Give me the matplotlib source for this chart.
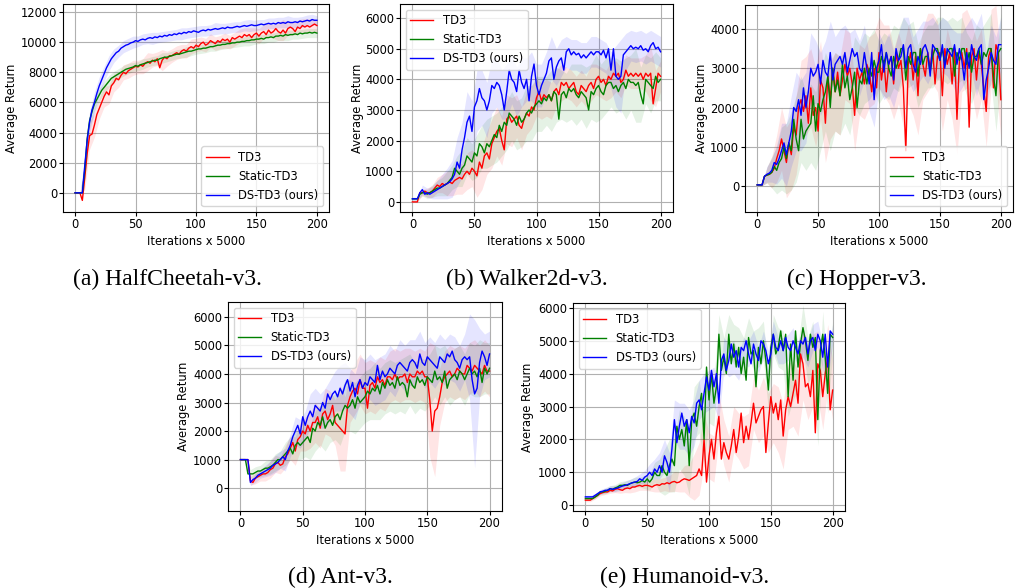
import numpy as np
import matplotlib
matplotlib.use("Agg")
import matplotlib.pyplot as plt

plt.rcParams["font.family"] = "DejaVu Sans"
plt.rcParams["font.size"] = 8.3
plt.rcParams["xtick.major.size"] = 3
plt.rcParams["ytick.major.size"] = 3
plt.rcParams["xtick.major.pad"] = 1.5
plt.rcParams["ytick.major.pad"] = 1.2

# x axis: evaluation every 2 iterations, bands every 4
iters = np.arange(0, 201, 2)
band_iters = iters[::2]

# ---------------- HalfCheetah-v3 ----------------
hc_td3 = [0, 0, 0, -500, 1000, 2600, 3800, 3900, 4500, 5200,
          5600, 6000, 6400, 6700, 6500, 7100, 7300, 7600, 7500, 7800,
          8000, 7900, 8100, 8200, 8300, 8400, 8350, 8500, 8400, 8600,
          8700, 8600, 8800, 8700, 8900, 8300, 8800, 9000, 8900, 9100,
          9100, 9200, 9300, 9200, 9400, 9500, 9400, 9600, 9700, 9600,
          9800, 9700, 9900, 10000, 9800, 9900, 10100, 10000, 9900, 10100,
          10000, 10200, 10100, 10200, 10000, 10300, 10200, 10300, 10400, 10300,
          10500, 10400, 10500, 10300, 10500, 10600, 10400, 10600, 10700, 10500,
          10800, 10600, 10700, 10900, 10700, 10600, 10800, 10600, 10900, 11000,
          10900, 10700, 11000, 10900, 11100, 11000, 11100, 11000, 11100, 11200,
          11100]
hc_static = [0, 0, 0, 0, 1500, 3600, 4800, 5400, 5900, 6200,
             6500, 6800, 7000, 7200, 7400, 7600, 7700, 7800, 7900, 8000,
             8100, 8200, 8250, 8300, 8350, 8450, 8400, 8500, 8550, 8600,
             8650, 8700, 8750, 8800, 8800, 8900, 8950, 9000, 9000, 9050,
             9100, 9150, 9200, 9200, 9250, 9300, 9350, 9400, 9400, 9450,
             9500, 9550, 9550, 9600, 9600, 9650, 9700, 9700, 9750, 9800,
             9800, 9850, 9850, 9900, 9900, 9950, 9950, 10000, 10000, 10050,
             10050, 10100, 10100, 10150, 10150, 10200, 10200, 10250, 10200, 10300,
             10300, 10350, 10300, 10400, 10400, 10450, 10400, 10500, 10450, 10500,
             10500, 10550, 10500, 10600, 10550, 10600, 10600, 10650, 10600, 10650,
             10600]
hc_ds = [0, 0, 0, 0, 1800, 3500, 4700, 5500, 6000, 6600,
         7100, 7500, 7900, 8300, 8600, 8900, 9100, 9300, 9400, 9600,
         9700, 9800, 9850, 9950, 10000, 10100, 10050, 10150, 10200, 10150,
         10250, 10300, 10250, 10350, 10300, 10400, 10350, 10450, 10400, 10500,
         10450, 10550, 10500, 10600, 10550, 10650, 10600, 10700, 10650, 10750,
         10700, 10650, 10750, 10800, 10750, 10850, 10800, 10850, 10900, 10850,
         10900, 10950, 10900, 11000, 10950, 10950, 11000, 11050, 11000, 11050,
         11100, 11050, 11100, 11150, 11100, 11100, 11150, 11200, 11150, 11200,
         11250, 11200, 11250, 11200, 11300, 11250, 11300, 11250, 11350, 11300,
         11300, 11350, 11300, 11400, 11350, 11400, 11450, 11400, 11500, 11450,
         11450]
hc_td3_std = [0, 0, 800, 900, 800, 700, 700, 600, 600, 500,
              500, 500, 500, 450, 500, 600, 450, 450, 700, 500,
              450, 450, 450, 450, 500, 450, 450, 450, 450, 450,
              450, 500, 450, 450, 450, 450, 450, 450, 500, 450,
              450, 450, 600, 700, 450, 450, 450, 450, 450, 450,
              400]
hc_static_std = [0, 0, 500, 500, 500, 400, 400, 400, 350, 350,
                 350, 350, 300, 300, 350, 300, 300, 300, 350, 300,
                 300, 300, 300, 350, 300, 300, 300, 300, 300, 350,
                 300, 300, 300, 300, 300, 300, 350, 300, 300, 300,
                 300, 300, 300, 300, 350, 300, 300, 300, 300, 300,
                 300]
hc_ds_std = [0, 0, 500, 700, 700, 600, 500, 500, 450, 400,
             400, 400, 400, 350, 350, 350, 400, 350, 350, 350,
             350, 350, 400, 350, 350, 350, 350, 350, 350, 400,
             350, 350, 350, 350, 350, 350, 400, 350, 350, 350,
             350, 350, 350, 350, 400, 350, 350, 350, 350, 350,
             300]

# ---------------- Walker2d-v3 ----------------
wk_td3 = [0, 0, 0, 300, 300, 350, 300, 300, 350, 450,
          550, 500, 600, 550, 600, 650, 600, 700, 750, 800,
          750, 900, 1000, 900, 1100, 1000, 850, 1300, 1100, 1500,
          1600, 1400, 1900, 2100, 2300, 2400, 2000, 1700, 2700, 2800,
          2600, 2700, 2800, 2500, 2400, 2700, 2900, 2800, 3100, 3000,
          3400, 3600, 3300, 3500, 3400, 3500, 3300, 3600, 3700, 3500,
          3900, 3800, 3900, 3700, 3800, 3900, 3600, 3500, 3800, 3700,
          3600, 3800, 3900, 3700, 4000, 4100, 3900, 4000, 3800, 4100,
          4000, 4200, 4100, 4200, 3900, 4000, 4300, 4100, 4200, 4100,
          4200, 4100, 4200, 4000, 4200, 4100, 4200, 3200, 3700, 4200,
          4100]
wk_static = [100, 100, 100, 250, 300, 300, 250, 300, 350, 400,
             450, 450, 500, 550, 600, 700, 800, 1100, 1000, 900,
             1100, 1200, 1500, 1400, 1300, 1600, 1500, 1900, 1800, 1600,
             1900, 1800, 2000, 2200, 2100, 2500, 2300, 2600, 2500, 2900,
             2800, 2700, 2500, 2800, 2600, 2700, 2900, 3000, 2900, 3100,
             3200, 3300, 3200, 3400, 3300, 3500, 3300, 3600, 3500, 2700,
             3500, 3600, 3400, 3700, 3600, 3700, 3500, 3400, 3600, 3500,
             3400, 3000, 3600, 3500, 3700, 3800, 3600, 3500, 3800, 3900,
             3900, 3700, 3800, 3600, 3800, 3900, 3700, 4000, 3900, 3900,
             3800, 3900, 3500, 3200, 4000, 3900, 3800, 3700, 4100, 3900,
             4000]
wk_ds = [100, 100, 100, 300, 400, 250, 300, 250, 300, 350,
         400, 450, 500, 550, 600, 650, 750, 900, 1300, 1100,
         1700, 2100, 2600, 2800, 2300, 3100, 3300, 3700, 3400, 3300,
         3000, 3300, 3800, 3700, 3900, 3800, 3500, 3000, 3600, 4300,
         4000, 3900, 3600, 4300, 3900, 3700, 4000, 3300, 4100, 4500,
         3800, 3500, 3800, 4000, 4200, 4600, 4700, 4000, 4400, 4600,
         4700, 4300, 4900, 5000, 4800, 4900, 4800, 4850, 4700, 4800,
         4700, 4800, 4900, 4800, 4900, 4900, 4800, 4950, 4700, 5000,
         4300, 5000, 4100, 4000, 4100, 4800, 4900, 5000, 5100, 5000,
         5050, 5000, 5100, 4950, 5000, 4900, 5100, 5200, 5000, 5050,
         4900]
wk_td3_std = [0, 0, 100, 150, 200, 250, 300, 400, 400, 500,
              500, 600, 600, 700, 700, 700, 800, 800, 800, 800,
              800, 700, 700, 700, 700, 600, 600, 600, 600, 600,
              600, 500, 500, 500, 500, 500, 600, 500, 500, 500,
              600, 500, 500, 500, 500, 500, 500, 600, 900, 600,
              500]
wk_static_std = [50, 50, 100, 150, 200, 250, 300, 400, 400, 500,
                 600, 600, 600, 700, 700, 800, 800, 800, 800, 800,
                 800, 800, 800, 900, 900, 900, 900, 800, 1000, 900,
                 800, 800, 900, 1000, 900, 1000, 900, 1100, 900, 900,
                 800, 900, 800, 1000, 900, 1200, 900, 800, 900, 800,
                 700]
wk_ds_std = [50, 50, 150, 150, 200, 300, 400, 500, 600, 800,
             900, 1000, 1000, 1000, 900, 900, 900, 800, 800, 900,
             800, 800, 800, 700, 800, 700, 700, 700, 700, 600,
             600, 500, 500, 500, 500, 500, 500, 500, 500, 500,
             600, 1000, 1200, 600, 500, 500, 500, 500, 500, 500,
             500]

# ---------------- Hopper-v3 ----------------
hp_td3 = [30, 30, 30, 250, 280, 300, 350, 450, 700, 900,
          1200, 900, 600, 1100, 800, 1500, 1300, 2000, 2200, 1900,
          2300, 1600, 2500, 1800, 2000, 1400, 2700, 2500, 1600, 2800,
          2200, 3000, 2400, 2900, 2300, 2700, 3100, 2800, 3000, 2600,
          1800, 3000, 2700, 2900, 2600, 3100, 2900, 2400, 3000, 2500,
          3400, 2700, 3200, 2400, 3100, 3300, 2600, 3400, 3000, 3200,
          2500, 900, 3100, 3400, 2700, 3300, 2300, 3500, 3100, 2800,
          3400, 3000, 3500, 2600, 3300, 3400, 2300, 3500, 3100, 3400,
          2600, 3500, 1700, 3200, 3400, 3000, 3500, 1500, 3300, 3500,
          2700, 3400, 3100, 2500, 1900, 3300, 3500, 2500, 3600, 3400,
          2200]
hp_static = [30, 30, 30, 250, 280, 300, 350, 500, 400, 600,
             700, 1000, 700, 1100, 900, 1700, 1200, 900, 1700, 1200,
             1400, 1500, 1600, 2300, 1400, 2100, 1900, 2200, 2400, 2800,
             2000, 3000, 2400, 2700, 2300, 3100, 2500, 2800, 2200, 2500,
             2900, 2000, 2700, 2600, 3000, 2600, 3000, 2800, 3200, 2900,
             2900, 3300, 3100, 3400, 3000, 2800, 3300, 3000, 3200, 3500,
             3500, 2700, 3300, 3100, 3400, 3400, 2800, 3500, 3100, 3300,
             3300, 2900, 3300, 3500, 3500, 3200, 3500, 3100, 3400, 3500,
             3500, 2800, 3400, 3200, 3500, 3500, 3100, 3400, 2900, 3300,
             3300, 3500, 3100, 3400, 3300, 3500, 3500, 2800, 2300, 3400,
             3500]
hp_ds = [30, 30, 30, 250, 300, 330, 400, 600, 550, 700,
         900, 1100, 800, 1100, 1400, 2000, 1900, 2200, 1800, 2500,
         2000, 2400, 3000, 2800, 2900, 3100, 2600, 3200, 2900, 2800,
         3400, 2700, 3100, 3200, 3300, 3100, 3400, 2900, 3200, 3500,
         3300, 3400, 3000, 2900, 3400, 3000, 2600, 3400, 2200, 3000,
         3200, 3600, 2900, 3400, 3100, 3300, 2700, 3500, 3200, 3300,
         3600, 3000, 3500, 3600, 3100, 2900, 3300, 3100, 3500, 3600,
         3400, 2800, 3600, 3500, 3400, 3200, 3600, 3000, 3500, 3400,
         3300, 3600, 3100, 3500, 3200, 2700, 3400, 3000, 3600, 3300,
         3200, 3500, 3600, 2200, 2700, 3000, 3400, 3200, 3100, 3600,
         3600]
hp_td3_std = [20, 20, 200, 400, 600, 800, 900, 900, 1000, 1000,
              1000, 1000, 1000, 1000, 1000, 1000, 1000, 1000, 900, 900,
              900, 900, 900, 900, 900, 900, 900, 1000, 900, 900,
              1000, 1000, 900, 1000, 900, 1000, 900, 900, 900, 900,
              900, 900, 1000, 1000, 900, 1000, 900, 900, 1000, 1000,
              1000]
hp_static_std = [20, 20, 200, 400, 600, 800, 900, 1000, 1100, 1100,
                 1000, 1000, 1000, 1000, 1000, 1100, 1000, 1000, 900, 900,
                 900, 900, 900, 800, 800, 800, 800, 800, 800, 800,
                 800, 800, 800, 800, 800, 800, 800, 800, 800, 800,
                 800, 800, 800, 800, 800, 800, 900, 900, 900, 900,
                 900]
hp_ds_std = [20, 20, 200, 300, 500, 700, 800, 900, 1000, 900,
             900, 900, 800, 800, 800, 800, 700, 700, 700, 700,
             700, 700, 700, 700, 700, 700, 700, 800, 700, 700,
             700, 800, 700, 700, 700, 800, 700, 700, 700, 700,
             700, 800, 700, 700, 700, 900, 800, 700, 700, 700,
             700]

# ---------------- Ant-v3 ----------------
ant_td3 = [1000, 1000, 1000, 1000, 250, 200, 350, 400, 450, 500,
           500, 550, 650, 700, 850, 900, 800, 850, 1100, 1200,
           1400, 1600, 1300, 1700, 1800, 2000, 1900, 2200, 2000, 2300,
           2300, 2500, 2100, 2600, 2700, 2400, 2600, 2900, 2300, 2200,
           2100, 2000, 1900, 2900, 3200, 3400, 3500, 3300, 3800, 3500,
           3500, 2800, 3600, 3700, 3500, 3900, 3700, 3800, 3600, 3900,
           3900, 3800, 4000, 3800, 3900, 3900, 4000, 3700, 4000, 3900,
           3900, 4100, 4000, 4100, 3900, 3900, 3100, 2000, 2700, 2800,
           3200, 3700, 3900, 4000, 4100, 3900, 4000, 4200, 4100, 4000,
           4000, 4300, 4200, 4100, 4300, 4200, 4100, 4000, 4300, 4100,
           4100]
ant_static = [1000, 1000, 1000, 500, 500, 500, 550, 600, 600, 650,
              700, 700, 750, 800, 900, 1000, 1000, 1100, 1200, 1300,
              1400, 1200, 1500, 1600, 1500, 1600, 1700, 1800, 1600, 2100,
              2000, 2300, 2200, 2500, 2100, 2300, 2400, 2200, 2500, 2600,
              2400, 2700, 2900, 2800, 2900, 3100, 2800, 3200, 3000, 3100,
              3200, 3400, 3300, 3500, 3400, 3600, 3300, 3700, 3500, 3800,
              3600, 3700, 3500, 3900, 3600, 3700, 3600, 3200, 3800, 3600,
              3500, 3900, 3700, 3800, 3600, 3900, 3800, 3700, 4100, 3800,
              3900, 3700, 4100, 3500, 3800, 3900, 4000, 3800, 4100, 4000,
              3800, 4000, 4200, 4000, 4100, 3900, 4200, 3700, 4200, 4000,
              4200]
ant_ds = [1000, 1000, 1000, 1000, 200, 300, 350, 450, 500, 550,
          600, 650, 700, 800, 850, 900, 1000, 1100, 1000, 1300,
          1500, 1800, 2000, 2200, 1900, 2500, 2200, 2500, 2700, 2500,
          2900, 2800, 2700, 3000, 2800, 3300, 3100, 3300, 3400, 3200,
          3500, 3300, 3600, 3800, 3400, 3700, 3200, 3600, 3800, 3500,
          3700, 3600, 3900, 3800, 3700, 4300, 3800, 4100, 3900, 4000,
          4200, 4100, 4000, 4300, 4400, 4300, 4200, 4100, 4400, 4500,
          4400, 4200, 4700, 4400, 4300, 4600, 4500, 4400, 4300, 4200,
          4600, 4500, 4400, 4700, 4600, 4800, 4500, 4400, 4200, 4500,
          4600, 4500, 4600, 3800, 3300, 3500, 4400, 4800, 4600, 4300,
          4700]
ant_td3_std = [0, 0, 150, 200, 200, 250, 300, 300, 300, 400,
               400, 500, 500, 600, 600, 700, 700, 800, 800, 800,
               1500, 1300, 900, 900, 900, 900, 900, 900, 900, 900,
               900, 900, 900, 900, 900, 900, 900, 900, 2000, 2300,
               1000, 900, 900, 900, 900, 900, 900, 900, 900, 900,
               900]
ant_static_std = [0, 0, 150, 200, 200, 250, 250, 300, 300, 400,
                  400, 500, 500, 600, 600, 700, 700, 800, 800, 800,
                  900, 900, 900, 900, 900, 900, 900, 1000, 900, 900,
                  900, 900, 900, 1000, 900, 900, 900, 900, 900, 900,
                  1000, 900, 900, 900, 900, 900, 900, 900, 1000, 900,
                  900]
ant_ds_std = [0, 0, 100, 150, 150, 200, 250, 300, 300, 400,
              400, 500, 500, 500, 600, 600, 600, 700, 700, 700,
              800, 800, 800, 800, 800, 800, 800, 800, 800, 800,
              800, 800, 800, 800, 800, 800, 800, 800, 800, 800,
              800, 800, 800, 800, 800, 800, 1500, 2600, 1200, 800,
              800]

# ---------------- Humanoid-v3 ----------------
hm_td3 = [150, 150, 150, 200, 250, 300, 350, 380, 400, 400,
          450, 430, 480, 500, 470, 450, 500, 520, 500, 550,
          550, 580, 600, 570, 600, 600, 580, 550, 600, 620,
          600, 650, 640, 680, 650, 700, 720, 680, 700, 760,
          800, 780, 750, 800, 850, 900, 1100, 900, 2000, 700,
          1500, 2000, 1400, 2200, 2700, 1400, 1900, 1600, 1400, 1800,
          2300, 1600, 2100, 2800, 1900, 2400, 2000, 2500, 3100, 2500,
          2700, 2900, 3000, 1600, 2500, 3300, 2800, 3100, 2600, 3200,
          2100, 2900, 3300, 3000, 3400, 3800, 3100, 4600, 4300, 3600,
          3700, 3300, 4100, 2200, 4300, 4100, 3300, 4000, 4500, 2900,
          3500]
hm_static = [200, 200, 200, 200, 250, 300, 400, 400, 420, 450,
             500, 480, 520, 550, 600, 600, 620, 600, 650, 680,
             700, 680, 700, 750, 700, 800, 700, 800, 1000, 900,
             900, 1200, 1000, 900, 1200, 1400, 1200, 2400, 2000, 2300,
             1800, 2600, 1200, 2600, 2800, 2400, 3000, 3400, 2000, 4200,
             3200, 4000, 3100, 3600, 5200, 4100, 4500, 4000, 5200, 4300,
             4900, 4200, 4800, 4000, 4500, 3800, 5100, 4600, 4700, 3600,
             4800, 4300, 5000, 4400, 3500, 4800, 5200, 4600, 4800, 5300,
             4700, 5200, 3300, 4900, 3800, 5300, 4200, 4900, 5400, 5000,
             4400, 5200, 4800, 5100, 2600, 4700, 5200, 4500, 3400, 5200,
             5100]
hm_ds = [250, 250, 250, 250, 300, 350, 400, 420, 450, 450,
         500, 480, 500, 520, 550, 580, 600, 620, 650, 680,
         700, 720, 800, 750, 850, 900, 1000, 900, 1100, 1000,
         1200, 1000, 1500, 1300, 1000, 1700, 2600, 1900, 2400, 2800,
         2400, 2600, 2200, 2700, 2500, 3100, 3200, 2900, 3400, 3900,
         3500, 4100, 3600, 4000, 3100, 4400, 4600, 4100, 4400, 4900,
         4500, 4700, 4200, 4800, 4700, 5000, 4600, 4300, 4900, 4600,
         4400, 5000, 4900, 4700, 4300, 4600, 5200, 4800, 4700, 5000,
         4700, 5100, 4800, 4700, 5000, 4800, 4600, 5000, 4900, 5100,
         4600, 5000, 5100, 4700, 5200, 5000, 4500, 5200, 4200, 5300,
         5200]
hm_td3_std = [50, 50, 60, 70, 80, 90, 100, 110, 120, 130,
              150, 150, 150, 150, 200, 200, 200, 250, 300, 300,
              400, 500, 700, 800, 800, 700, 700, 700, 700, 700,
              700, 700, 800, 800, 800, 800, 900, 900, 900, 1000,
              1000, 1000, 1000, 1000, 1100, 1100, 1100, 1000, 1000, 1000,
              900]
hm_static_std = [50, 50, 60, 70, 80, 90, 100, 110, 120, 130,
                 150, 150, 200, 250, 300, 500, 700, 800, 800, 900,
                 900, 900, 800, 800, 700, 700, 700, 600, 600, 600,
                 600, 600, 600, 600, 600, 600, 600, 600, 600, 600,
                 600, 600, 600, 700, 700, 700, 800, 800, 700, 600,
                 500]
hm_ds_std = [50, 50, 60, 70, 80, 90, 100, 110, 120, 130,
             150, 150, 200, 250, 300, 400, 500, 600, 600, 700,
             700, 700, 700, 600, 600, 600, 600, 500, 500, 500,
             500, 400, 400, 400, 400, 400, 400, 400, 400, 400,
             400, 400, 400, 400, 400, 400, 400, 400, 400, 400,
             300]

labels = ["TD3", "Static-TD3", "DS-TD3 (ours)"]
colors = ["r", "g", "b"]

W, H = 1019, 588


def box(l, t, r, b):
    return [l / W, 1 - b / H, (r - l) / W, (b - t) / H]


panels = [
    dict(series=[(hc_td3, hc_td3_std), (hc_static, hc_static_std), (hc_ds, hc_ds_std)],
         px=(63, 4, 329, 212), ylx=12, ylim=(-1270, 12530), yticks=range(0, 12001, 2000),
         loc="lower right", caption="(a) HalfCheetah-v3.", cx=167, cy=285),
    dict(series=[(wk_td3, wk_td3_std), (wk_static, wk_static_std), (wk_ds, wk_ds_std)],
         px=(400, 4, 673, 212), ylx=357, ylim=(-330, 6460), yticks=range(0, 6001, 1000),
         loc="upper left", caption="(b) Walker2d-v3.", cx=527, cy=285),
    dict(series=[(hp_td3, hp_td3_std), (hp_static, hp_static_std), (hp_ds, hp_ds_std)],
         px=(745, 5, 1013, 212), ylx=701, ylim=(-660, 4610), yticks=range(0, 4001, 1000),
         loc="lower right", caption="(c) Hopper-v3.", cx=857, cy=285),
    dict(series=[(ant_td3, ant_td3_std), (ant_static, ant_static_std), (ant_ds, ant_ds_std)],
         px=(228, 302, 502, 511), ylx=184, ylim=(-800, 6520), yticks=range(0, 6001, 1000),
         loc="upper left", caption="(d) Ant-v3.", cx=340, cy=583),
    dict(series=[(hm_td3, hm_td3_std), (hm_static, hm_static_std), (hm_ds, hm_ds_std)],
         px=(573, 303, 845, 511), ylx=528, ylim=(-180, 6150), yticks=range(0, 6001, 1000),
         loc="upper left", caption="(e) Humanoid-v3.", cx=685, cy=583),
]

fig = plt.figure(figsize=(W / 100, H / 100), dpi=100)

for p in panels:
    l, t, r, b = p["px"]
    ax = fig.add_axes(box(l, t, r, b))
    for (mean, std), c, lab in zip(p["series"], colors, labels):
        m = np.array(mean, dtype=float)
        s = np.array(std, dtype=float)
        mb = m[::2]
        ax.fill_between(band_iters, mb - s, mb + s, color=c, alpha=0.1, lw=0)
        ax.plot(iters, m, color=c, lw=1.0, label=lab)
    ax.set_xlim(-10, 210)
    ax.set_ylim(*p["ylim"])
    ax.set_xticks([0, 50, 100, 150, 200])
    ax.set_yticks(list(p["yticks"]))
    ax.grid(True, color="#b0b0b0", lw=0.8)
    ax.set_axisbelow(True)
    ax.set_xlabel("Iterations x 5000", labelpad=2.5)
    ax.set_ylabel("Average Return")
    ax.yaxis.set_label_coords((p["ylx"] + 6.5 - l) / (r - l), 0.5)
    ax.legend(loc=p["loc"], fontsize=8.3)
    fig.text(p["cx"] / W, 1 - p["cy"] / H, p["caption"], ha="center", va="baseline",
             family="Liberation Serif", fontsize=17)

fig.savefig("out.png", dpi=100)
